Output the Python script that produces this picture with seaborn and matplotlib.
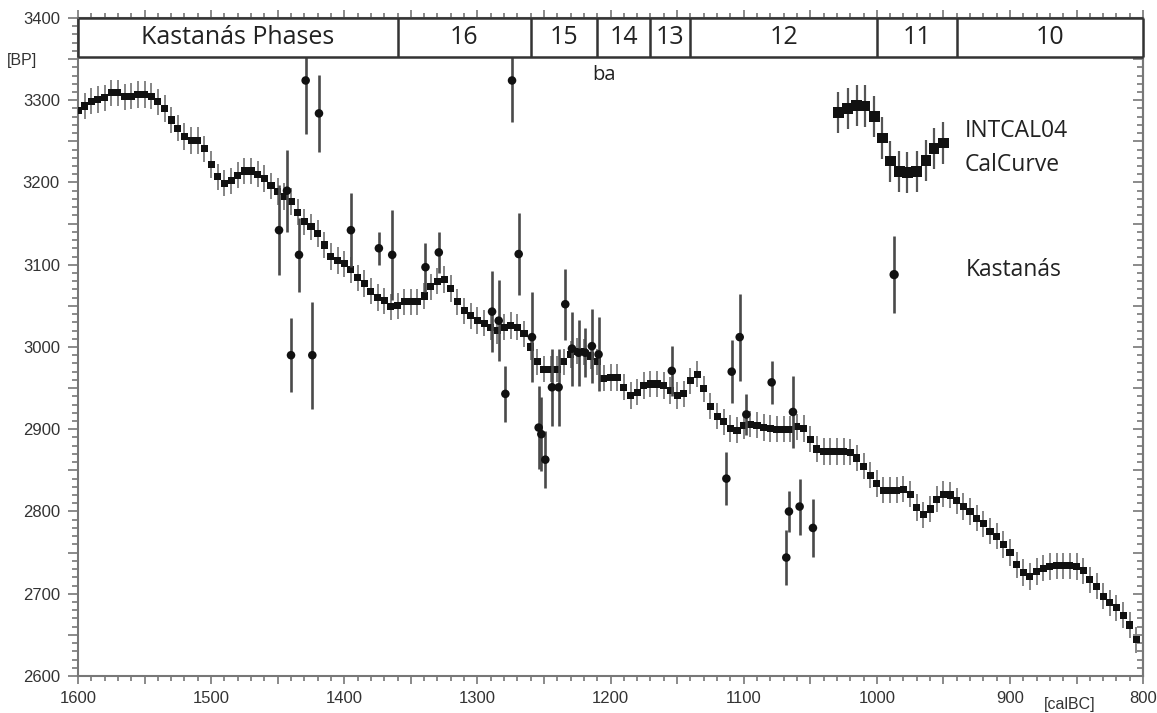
import numpy as np
import pandas as pd
import matplotlib
matplotlib.use("Agg")
import matplotlib.pyplot as plt
import seaborn as sns
from matplotlib.ticker import MultipleLocator, FuncFormatter

# ---------------- data ----------------
# INTCAL04 calibration curve, one point every 5 calendar years (1600 .. 805 calBC)
curve_years = np.arange(1600, 800, -5)
curve_bp = [
    3287, 3293, 3299, 3301, 3303, 3309, 3309, 3304, 3305, 3307,
    3307, 3305, 3298, 3290, 3276, 3266, 3256, 3251, 3251, 3241,
    3222, 3207, 3199, 3202, 3209, 3214, 3214, 3210, 3205, 3196,
    3189, 3183, 3177, 3164, 3152, 3146, 3138, 3124, 3110, 3105,
    3101, 3094, 3084, 3077, 3068, 3060, 3056, 3049, 3050, 3055,
    3055, 3055, 3062, 3073, 3080, 3082, 3071, 3055, 3044, 3038,
    3032, 3029, 3024, 3020, 3024, 3026, 3024, 3016, 3000, 2982,
    2973, 2973, 2973, 2982, 2991, 2995, 2994, 2989, 2982, 2962,
    2963, 2963, 2951, 2941, 2945, 2953, 2955, 2955, 2953, 2947,
    2941, 2943, 2959, 2967, 2949, 2928, 2916, 2909, 2901, 2899,
    2904, 2906, 2905, 2902, 2901, 2900, 2900, 2900, 2903, 2901,
    2888, 2876, 2873, 2873, 2873, 2873, 2872, 2865, 2855, 2844,
    2834, 2826, 2826, 2826, 2827, 2821, 2805, 2796, 2803, 2815,
    2821, 2820, 2813, 2806, 2800, 2792, 2785, 2776, 2770, 2760,
    2750, 2735, 2726, 2721, 2727, 2731, 2733, 2734, 2734, 2734,
    2733, 2728, 2717, 2709, 2697, 2689, 2683, 2674, 2662, 2644,
]
curve_err = 16

# Kastanás radiocarbon dates
kas_year = [1429, 1419, 1274, 1449, 1443, 1434, 1440, 1424, 1395, 1374,
            1364, 1339, 1329, 1289, 1284, 1279, 1269, 1259, 1254, 1252,
            1249, 1244, 1239, 1234, 1229, 1224, 1219, 1214, 1209, 1154,
            1113, 1109, 1103, 1098, 1079, 1063, 1068, 1066, 1058, 1048]
kas_bp = [3324, 3284, 3324, 3142, 3190, 3112, 2990, 2990, 3142, 3120,
          3112, 3097, 3115, 3043, 3032, 2943, 3113, 3012, 2902, 2894,
          2863, 2951, 2951, 3052, 2998, 2993, 2993, 3001, 2991, 2971,
          2840, 2970, 3012, 2918, 2957, 2921, 2744, 2800, 2806, 2780]
kas_err = [65, 47, 50, 55, 50, 45, 45, 65, 45, 20,
           55, 30, 25, 49, 49, 34, 50, 55, 50, 45,
           35, 47, 47, 43, 45, 40, 30, 45, 45, 30,
           32, 38, 53, 25, 26, 44, 33, 25, 34, 35]

# Kastanás phases header
phase_edges = [1600, 1360, 1260, 1210, 1170, 1140, 1000, 940, 800]
phase_labels = ["Kastanás Phases", "16", "15", "14", "13", "12", "11", "10"]
band_bottom = 3352
sub_label = "ba"
sub_label_year = 1205
sub_label_bp = 3331

# legend symbols
legend_curve_year = [1029, 1022, 1015, 1009, 1002, 996, 990, 983, 977, 970, 963, 957, 950]
legend_curve_bp = [3285, 3290, 3294, 3293, 3280, 3254, 3226, 3213, 3212, 3213, 3227, 3241, 3248]
legend_curve_err = 25
legend_kas_year = [987]
legend_kas_bp = [3088]
legend_kas_err = [47]
legend_curve_text = "INTCAL04\nCalCurve"
legend_kas_text = "Kastanás"

# ---------------- plot ----------------
sns.set_theme(style="ticks")
plt.rcParams["font.family"] = ["Liberation Sans", "DejaVu Sans"]
head_font = ["Open Sans", "DejaVu Sans"]

fig = plt.figure(figsize=(11.57, 7.13), dpi=100)
ax = fig.add_axes([0.0674, 0.0519, 0.9206, 0.9229])

curve_df = pd.DataFrame({"year": curve_years, "bp": curve_bp})
kas_df = pd.DataFrame({"year": kas_year, "bp": kas_bp, "err": kas_err})

ax.errorbar(curve_df["year"], curve_df["bp"], yerr=curve_err, fmt="none",
            ecolor="#858585", elinewidth=1.4, capsize=0, zorder=2)
sns.scatterplot(data=curve_df, x="year", y="bp", marker="s", s=26,
                color="#111111", edgecolor="none", ax=ax, zorder=3, legend=False)

ax.errorbar(kas_df["year"], kas_df["bp"], yerr=kas_df["err"], fmt="none",
            ecolor="#4a4a4a", elinewidth=1.9, capsize=0, zorder=3)
sns.scatterplot(data=kas_df, x="year", y="bp", marker="o", s=38,
                color="#111111", edgecolor="none", ax=ax, zorder=4, legend=False)

# legend symbols
ax.errorbar(legend_curve_year, legend_curve_bp, yerr=legend_curve_err, fmt="none",
            ecolor="#555555", elinewidth=1.6, capsize=0, zorder=3)
sns.scatterplot(x=legend_curve_year, y=legend_curve_bp, marker="s", s=60,
                color="#111111", edgecolor="none", ax=ax, zorder=4, legend=False)
ax.errorbar(legend_kas_year, legend_kas_bp, yerr=legend_kas_err, fmt="none",
            ecolor="#4a4a4a", elinewidth=1.9, capsize=0, zorder=3)
sns.scatterplot(x=legend_kas_year, y=legend_kas_bp, marker="o", s=45,
                color="#111111", edgecolor="none", ax=ax, zorder=4, legend=False)
ax.text(934, 3242, legend_curve_text, fontfamily=head_font, fontsize=16.5,
        ha="left", va="center", linespacing=1.55, color="#222222")
ax.text(933, 3093, legend_kas_text, fontfamily=head_font, fontsize=16.5,
        ha="left", va="center", color="#222222")

ax.set_xlim(1600, 800)
ax.set_ylim(2600, 3400)
ax.set_xlabel("")
ax.set_ylabel("")

# header band
ax.axhspan(band_bottom, 3400, facecolor="white", edgecolor="none", zorder=5)
ax.hlines([band_bottom, 3400], phase_edges[0], phase_edges[-1], colors="#333333",
          lw=1.8, zorder=6, clip_on=False)
ax.vlines(phase_edges, band_bottom, 3400, colors="#333333", lw=1.8, zorder=6, clip_on=False)
for i, lab in enumerate(phase_labels):
    mid = (phase_edges[i] + phase_edges[i + 1]) / 2
    ax.text(mid, (band_bottom + 3400) / 2, lab, fontfamily=head_font, fontsize=18,
            ha="center", va="center", color="#222222", zorder=7)
ax.text(sub_label_year, sub_label_bp, sub_label, fontfamily=head_font, fontsize=14.5,
        ha="center", va="center", color="#222222", zorder=7)

# ticks
hundred_fmt = FuncFormatter(lambda v, p: f"{int(round(v))}" if round(v) % 100 == 0 else "")
ax.xaxis.set_major_locator(MultipleLocator(50))
ax.xaxis.set_minor_locator(MultipleLocator(10))
ax.xaxis.set_major_formatter(hundred_fmt)
ax.yaxis.set_major_locator(MultipleLocator(50))
ax.yaxis.set_minor_locator(MultipleLocator(10))
ax.yaxis.set_major_formatter(hundred_fmt)

tick_col = "#777777"
ax.tick_params(axis="x", which="both", bottom=True, top=True, direction="out",
               color=tick_col, labelcolor="#333333", labelsize=12, width=1.2)
ax.tick_params(axis="x", which="major", length=6, pad=5)
ax.tick_params(axis="x", which="minor", length=3.5)
ax.tick_params(axis="y", which="both", left=True, right=False, direction="out",
               color=tick_col, labelcolor="#333333", labelsize=12, width=1.2)
ax.tick_params(axis="y", which="major", length=7, pad=6)
ax.tick_params(axis="y", which="minor", length=4)

sec = ax.secondary_yaxis("right")
sec.yaxis.set_major_locator(MultipleLocator(50))
sec.yaxis.set_minor_locator(MultipleLocator(10))
sec.tick_params(axis="y", which="both", direction="in", color=tick_col, width=1.2,
                labelright=False)
sec.tick_params(axis="y", which="major", length=7)
sec.tick_params(axis="y", which="minor", length=4)
for sp in sec.spines.values():
    sp.set_color(tick_col)
    sp.set_linewidth(1.5)

for sp in ax.spines.values():
    sp.set_color(tick_col)
    sp.set_linewidth(1.5)

fig.text(22 / 1157, 1 - 60 / 713, "[BP]", ha="center", va="center",
         fontsize=11.5, color="#333333")
fig.text(1070 / 1157, 1 - 705 / 713, "[calBC]", ha="center", va="center",
         fontsize=11.5, color="#333333")

fig.savefig("out.png", dpi=100)
